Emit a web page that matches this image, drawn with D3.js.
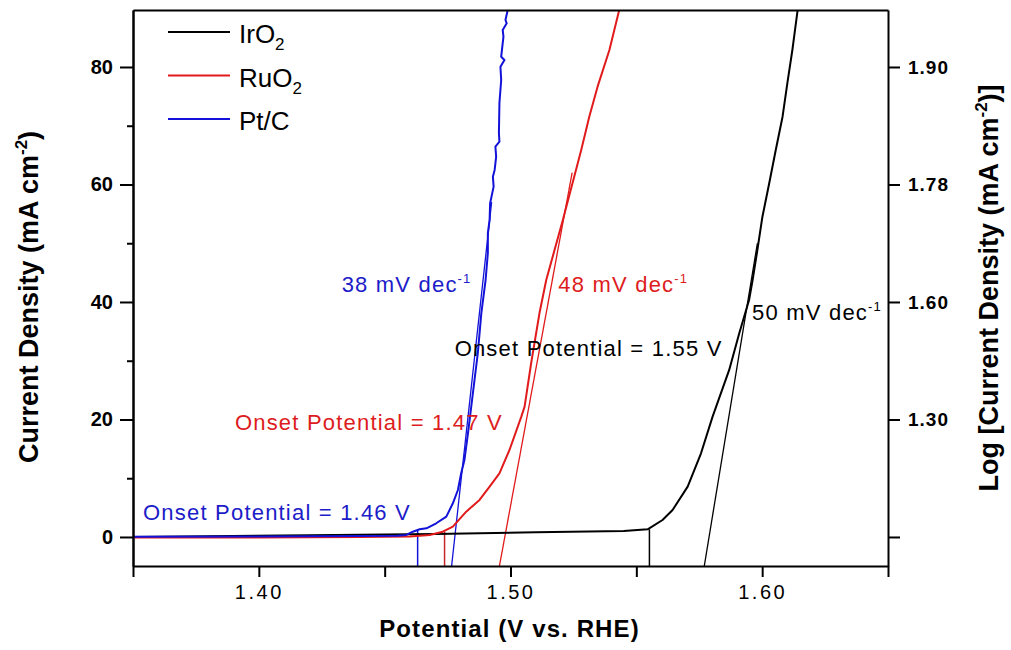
<!DOCTYPE html>
<html>
<head>
<meta charset="utf-8">
<script src="https://cdn.jsdelivr.net/npm/d3@7/dist/d3.min.js"></script>
<style>
  body { margin: 0; background: #fff; }
  text { font-family: "Liberation Sans", Arial, sans-serif; fill: #000; }
</style>
</head>
<body>
<svg id="chart" width="1011" height="650"></svg>
<script>
// ---- data ----
const seriesNames = ["IrO2", "RuO2", "Pt/C"];
const seriesColors = ["#000000", "#e11a1c", "#1212d8"];

const potIrO2 = [1.350, 1.420, 1.470, 1.510, 1.545, 1.5545, 1.5604, 1.5644, 1.5704, 1.5757, 1.5803, 1.5869, 1.5909, 1.5948, 1.5962, 1.5981, 1.6001, 1.6028, 1.6054, 1.6081, 1.6100, 1.6120, 1.6140, 1.6143];
const curIrO2 = [0.00, 0.30, 0.50, 0.80, 1.00, 1.31, 2.89, 4.60, 8.57, 14.24, 20.48, 28.43, 34.67, 40.34, 43.74, 48.85, 54.52, 60.20, 65.87, 71.54, 77.22, 82.89, 89.40, 90.50];

const potRuO2 = [1.350, 1.400, 1.440, 1.460, 1.4679, 1.4731, 1.4771, 1.4824, 1.4877, 1.4917, 1.4956, 1.4996, 1.5043, 1.5056, 1.5082, 1.5115, 1.5142, 1.5208, 1.5281, 1.5313, 1.5346, 1.5393, 1.5432, 1.5440];
const curRuO2 = [-0.10, -0.10, 0.00, 0.10, 0.34, 0.90, 1.76, 4.31, 6.30, 8.57, 10.84, 14.81, 20.48, 22.18, 29.57, 38.07, 43.74, 53.96, 65.87, 71.54, 76.65, 82.89, 89.70, 91.00];

const potPtC = [1.350, 1.400, 1.440, 1.455, 1.4586, 1.4612, 1.4639, 1.4666, 1.4705, 1.4745,
                1.4771, 1.4791, 1.4804, 1.4817, 1.4831, 1.4844, 1.4857, 1.4870, 1.4877, 1.4884,
                1.4901, 1.4910, 1.4910, 1.4917, 1.4919, 1.4933, 1.4930, 1.4937, 1.4943, 1.4940,
                1.4956, 1.4954, 1.4956, 1.4963, 1.4960, 1.4976, 1.4963, 1.4972, 1.4969, 1.4985,
                1.4980, 1.4989];
const curPtC = [0.05, 0.10, 0.15, 0.20, 0.34, 0.90, 1.31, 1.48, 2.33, 3.46,
                5.73, 8.00, 10.84, 13.11, 17.65, 22.18, 26.72, 31.26, 34.67, 38.07,
                43.74, 48.34, 51.74, 53.96, 56.80, 59.63, 61.33, 62.47, 64.73, 66.43,
                67.29, 68.77, 73.87, 77.79, 80.05, 81.19, 81.75, 85.16, 86.30, 87.44,
                88.00, 89.70];

// Tafel fit lines (start / end), same order as seriesNames
const tafelPot = [[1.5770, 1.5981], [1.4956, 1.5245], [1.4766, 1.4925]];
const tafelCur = [[-4.94, 50], [-4.94, 62], [-4.94, 57]];

// onset potentials (vertical drop lines)
const onsetPot = [1.5552, 1.4738, 1.4631];
const onsetTop = [1.3, 0.9, 1.2];

// axes
const xDomain = [1.35, 1.65];
const yDomain = [-4.94, 89.7];
const xTicks = [1.35, 1.40, 1.45, 1.50, 1.55, 1.60, 1.65];
const xTickLabels = ["", "1.40", "", "1.50", "", "1.60", ""];
const yMajor = [0, 20, 40, 60, 80];
const yMinor = [10, 30, 50, 70];
const rightTickLabels = ["", "1.30", "1.60", "1.78", "1.90"];

// annotations: text, colour, anchor potential / current
const noteText = [
  [{t: "38 mV dec"}, {t: "-1", sup: true}],
  [{t: "48 mV dec"}, {t: "-1", sup: true}],
  [{t: "50 mV dec"}, {t: "-1", sup: true}],
  [{t: "Onset Potential = 1.55 V"}],
  [{t: "Onset Potential = 1.47 V"}],
  [{t: "Onset Potential = 1.46 V"}]
];
const noteColor = ["#1c1cc8", "#dd1c1e", "#000000", "#000000", "#dd1c1e", "#1c1cc8"];
const notePot = [1.4329, 1.5190, 1.5960, 1.4778, 1.3905, 1.3540];
const noteCur = [41.7, 41.7, 36.9, 30.8, 18.2, 2.9];

// ---- chart ----
const margin = {top: 10, right: 123, bottom: 84, left: 133},
    width = 1011 - margin.left - margin.right,
    height = 650 - margin.top - margin.bottom;

const svg = d3.select("#chart");
const g = svg.append("g")
    .attr("transform", "translate(" + margin.left + "," + margin.top + ")");

const x = d3.scaleLinear().domain(xDomain).range([0, width]);
const y = d3.scaleLinear().domain(yDomain).range([height, 0]);

function rich(sel, parts, small) {
  let cur = 0;
  parts.forEach(p => {
    const off = p.sup ? -small.up : p.sub ? small.down : 0;
    const ts = sel.append("tspan").text(p.t).attr("dy", off - cur);
    if (p.sup || p.sub) ts.attr("font-size", small.size);
    cur = off;
  });
}

g.append("clipPath").attr("id", "plot-clip")
  .append("rect").attr("width", width).attr("height", height);

const plot = g.append("g").attr("clip-path", "url(#plot-clip)");

const line = d3.line()
    .x(d => x(d[0]))
    .y(d => y(d[1]));

const curves = [d3.zip(potIrO2, curIrO2), d3.zip(potRuO2, curRuO2), d3.zip(potPtC, curPtC)];

// onset drop lines
onsetPot.forEach((v, i) => {
  plot.append("line")
    .attr("x1", x(v)).attr("x2", x(v))
    .attr("y1", y(yDomain[0])).attr("y2", y(onsetTop[i]))
    .attr("stroke", i === 1 ? "#c4262a" : seriesColors[i])
    .attr("stroke-width", 1.5);
});

// Tafel fit lines
tafelPot.forEach((p, i) => {
  plot.append("path")
    .datum(d3.zip(p, tafelCur[i]))
    .attr("d", line)
    .attr("fill", "none")
    .attr("stroke", seriesColors[i])
    .attr("stroke-width", 1.3);
});

// measured curves
curves.forEach((c, i) => {
  plot.append("path")
    .datum(c)
    .attr("d", line)
    .attr("fill", "none")
    .attr("stroke", seriesColors[i])
    .attr("stroke-width", 2)
    .attr("stroke-linejoin", "round");
});

// axes
const xAxis = g.append("g")
    .attr("transform", "translate(0," + height + ")")
    .call(d3.axisBottom(x).tickValues(xTicks).tickSize(11).tickSizeOuter(0).tickPadding(8)
      .tickFormat((d, i) => xTickLabels[i]));
xAxis.selectAll("text").attr("font-size", 20).style("letter-spacing", "2.5px");

const yAxis = g.append("g")
    .call(d3.axisLeft(y).tickValues(yMajor).tickSize(13).tickSizeOuter(0).tickPadding(7)
      .tickFormat(d3.format("d")));
yAxis.selectAll("text").attr("font-size", 20).attr("font-weight", "bold");

g.append("g")
    .call(d3.axisLeft(y).tickValues(yMinor).tickSize(6).tickSizeOuter(0).tickFormat(""));

const rAxis = g.append("g")
    .attr("transform", "translate(" + width + ",0)")
    .call(d3.axisRight(y).tickValues(yMajor).tickSize(12).tickSizeOuter(0).tickPadding(8)
      .tickFormat((d, i) => rightTickLabels[i]));
rAxis.selectAll("text").attr("font-size", 19).attr("font-weight", "bold").style("letter-spacing", "1px");

g.append("g").call(d3.axisTop(x).tickValues([]).tickSizeOuter(0));

g.selectAll(".domain, .tick line").attr("stroke", "#000").attr("stroke-width", 2);
g.selectAll(".tick text").attr("fill", "#000");

// axis titles
g.append("text")
  .attr("x", width / 2 - 1).attr("y", height + 71)
  .attr("text-anchor", "middle")
  .attr("font-size", 24).attr("font-weight", "bold")
  .style("letter-spacing", "1.1px")
  .text("Potential (V vs. RHE)");

const yTitle = g.append("text")
  .attr("transform", "translate(" + (38 - margin.left) + "," + (297 - margin.top) + ") rotate(-90)")
  .attr("text-anchor", "middle")
  .attr("font-size", 27).attr("font-weight", "bold");
rich(yTitle, [{t: "Current Density (mA cm"}, {t: "-2", sup: true}, {t: ")"}], {size: 17, up: 11});

const rTitle = g.append("text")
  .attr("transform", "translate(" + (998 - margin.left) + "," + (288 - margin.top) + ") rotate(-90)")
  .attr("text-anchor", "middle")
  .attr("font-size", 27).attr("font-weight", "bold");
rich(rTitle, [{t: "Log [Current Density (mA cm"}, {t: "-2", sup: true}, {t: ")]"}], {size: 17, up: 11});

// annotations
noteText.forEach((parts, i) => {
  const t = g.append("text")
    .attr("x", x(notePot[i])).attr("y", y(noteCur[i]))
    .attr("font-size", 22)
    .style("letter-spacing", "1.2px")
    .style("fill", noteColor[i]);
  rich(t, parts, {size: 13, up: 9});
});

// legend
const legendName = [[{t: "IrO"}, {t: "2", sub: true}], [{t: "RuO"}, {t: "2", sub: true}], [{t: "Pt/C"}]];
const legend = g.append("g").attr("transform", "translate(" + (168 - margin.left) + "," + (32 - margin.top) + ")");
seriesNames.forEach((name, i) => {
  const row = legend.append("g").attr("transform", "translate(0," + i * 43.5 + ")");
  row.append("line").attr("x1", 0).attr("x2", 62)
    .attr("stroke", seriesColors[i]).attr("stroke-width", 2);
  const t = row.append("text").attr("x", 71).attr("y", 11).attr("font-size", 26);
  rich(t, legendName[i], {size: 17, down: 7});
});
</script>
</body>
</html>
